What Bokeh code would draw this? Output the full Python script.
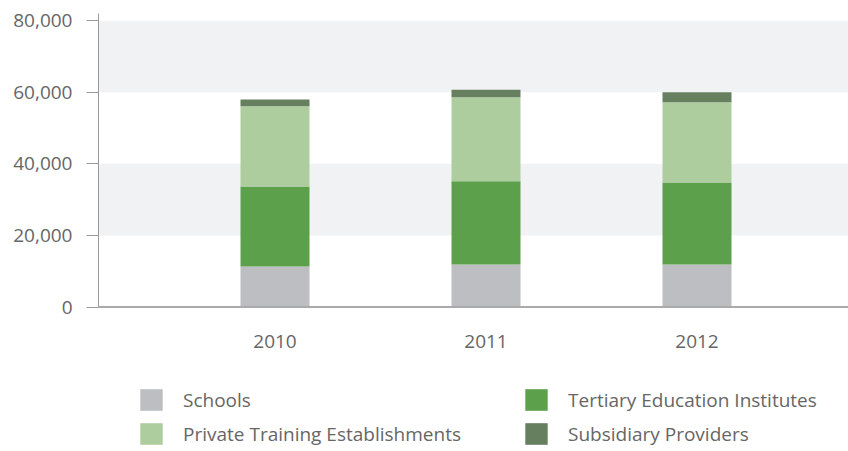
from bokeh.plotting import figure
from bokeh.models import (ColumnDataSource, Range1d, FixedTicker, NumeralTickFormatter,
                          BoxAnnotation, Legend, LegendItem, Span)
from bokeh.core.properties import value
from bokeh.embed import file_html
from bokeh.resources import INLINE

years = ["2010", "2011", "2012"]
series = ["Schools", "Tertiary Education Institutes", "Private Training Establishments", "Subsidiary Providers"]
schools = [11300, 11900, 11900]
tertiary = [22400, 23200, 22900]
private = [22400, 23500, 22400]
subsidiary = [1900, 2100, 2800]
y_ticks = [0, 20000, 40000, 60000, 80000]
bands = [(20000, 40000), (60000, 80000)]

colors = ["#bdbec2", "#5da04b", "#aecd9f", "#667f5f"]
FONT = "Open Sans"
TXT = "#666666"
FS = "19px"

xpos = [i + 0.5 for i in range(len(years))]
src = ColumnDataSource(dict(x=xpos, s0=schools, s1=tertiary, s2=private, s3=subsidiary))
lab = ColumnDataSource(dict(x=xpos, y=[0] * len(years), t=years))

# frame spans down to the bottom so the legend can sit inside it
y_top = 82000
y_bottom = -y_top * (438 - 293.5) / 293.5
p = figure(width=848, height=451, output_backend="svg", toolbar_location=None,
           x_range=Range1d(-0.3365, 3.218), y_range=Range1d(y_bottom, y_top),
           min_border_left=98, min_border_right=0, min_border_top=13, min_border_bottom=0)
p.outline_line_color = None
p.grid.visible = False
p.xaxis.visible = False

for lo, hi in bands:
    p.add_layout(BoxAnnotation(bottom=lo, top=hi, fill_color="#f1f2f4", fill_alpha=1,
                               line_color=None, level="underlay"))

rs = p.vbar_stack(["s0", "s1", "s2", "s3"], x="x", width=0.327, color=colors,
                  line_color=None, source=src)

# baseline (x axis line)
p.add_layout(Span(location=0, dimension="width", line_color="#aaaaaa", line_width=2))

# x tick labels
p.text(x="x", y="y", text="t", source=lab, y_offset=34, text_align="center",
       text_baseline="middle", text_font=value(FONT), text_font_size=FS, text_color=TXT)

ya = p.yaxis[0]
ya.bounds = (0, y_top)
ya.ticker = FixedTicker(ticks=y_ticks)
ya.formatter = NumeralTickFormatter(format="0,0")
ya.major_tick_out = 12
ya.major_tick_in = 0
ya.minor_tick_line_color = None
ya.axis_line_color = "#999999"
ya.major_tick_line_color = "#999999"
ya.major_label_text_font = FONT
ya.major_label_text_font_size = FS
ya.major_label_text_color = TXT
ya.major_label_standoff = 14

items = [LegendItem(label=s, renderers=[r]) for s, r in zip(series, rs)]
legend = Legend(items=items, orientation="horizontal", ncols=2, location=(39, 4),
                glyph_width=28, glyph_height=27, label_height=27, label_width=332,
                label_standoff=18, spacing=7, padding=0, margin=0,
                border_line_color=None, background_fill_alpha=0,
                label_text_font=FONT, label_text_font_size=FS, label_text_color=TXT)
p.add_layout(legend, "center")

open("out.html", "w").write(file_html(p, INLINE))
